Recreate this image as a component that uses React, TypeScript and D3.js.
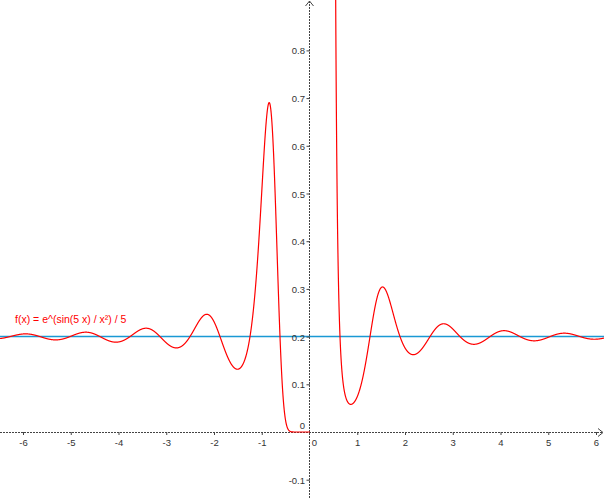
import React, { useMemo } from "react";
import * as d3 from "d3";

// Chart content
const functionLabel = "f(x) = e^(sin(5 x) / x²) / 5";
const xTicks = [-6, -5, -4, -3, -2, -1, 0, 1, 2, 3, 4, 5, 6];
const xTickLabels = ["-6", "-5", "-4", "-3", "-2", "-1", "0", "1", "2", "3", "4", "5", "6"];
const yTicks = [-0.1, 0, 0.1, 0.2, 0.3, 0.4, 0.5, 0.6, 0.7, 0.8];
const yTickLabels = ["-0.1", "0", "0.1", "0.2", "0.3", "0.4", "0.5", "0.6", "0.7", "0.8"];
const horizontalLineValue = [0.2];
// the plotted function, as stated on the chart
const f = (x: number) => Math.exp(Math.sin(5 * x) / (x * x)) / 5;

const W = 604;
const H = 499;
const ORIGIN_X = 310;
const ORIGIN_Y = 432;
const PX_PER_X = 47.75;
const PX_PER_Y = 477;

export default function App() {
  const x = d3
    .scaleLinear()
    .domain([-ORIGIN_X / PX_PER_X, (W - ORIGIN_X) / PX_PER_X])
    .range([0, W]);
  const y = d3
    .scaleLinear()
    .domain([-(H - ORIGIN_Y) / PX_PER_Y, ORIGIN_Y / PX_PER_Y])
    .range([H, 0]);

  const pathD = useMemo(() => {
    const [x0, x1] = x.domain();
    const line = d3
      .line<[number, number]>()
      .x((d) => x(d[0]))
      .y((d) => y(d[1]));
    const sample = (a: number, b: number, n: number) => {
      const pts: [number, number][] = [];
      for (let i = 0; i <= n; i++) {
        const xv = a + ((b - a) * i) / n;
        let v = f(xv);
        if (!isFinite(v) || v > 3) v = 3;
        pts.push([xv, v]);
      }
      return pts;
    };
    const left = sample(x0, -1e-4, 4000);
    const right = sample(1e-4, x1, 4000);
    return (line(left) || "") + (line(right) || "");
  }, []);

  const axisColor = "#444";
  const font = "'Liberation Sans', Arial, sans-serif";

  return (
    <svg
      width={W}
      height={H}
      style={{ position: "fixed", left: 0, top: 0, background: "#fff" }}
      fontFamily={font}
    >
      <defs>
        <clipPath id="plot">
          <rect x={0} y={0} width={W} height={H} />
        </clipPath>
      </defs>

      {/* horizontal line y = 0.2 */}
      {horizontalLineValue.map((v, i) => (
        <line key={"h" + i} x1={0} x2={W} y1={y(v)} y2={y(v)} stroke="#1a99d4" strokeWidth={1.5} />
      ))}

      {/* x axis */}
      <line x1={0} x2={W - 1} y1={y(0) + 0.5} y2={y(0) + 0.5} stroke={axisColor} strokeWidth={1} strokeDasharray="2,1" />
      <path d={`M${W - 6},${y(0) - 3.5} L${W - 1},${y(0) + 0.5} L${W - 6},${y(0) + 4.5}`} fill="none" stroke={axisColor} strokeWidth={1} />
      {/* y axis */}
      <line x1={x(0) - 0.5} x2={x(0) - 0.5} y1={1} y2={H} stroke={axisColor} strokeWidth={1} strokeDasharray="2,1" />
      <path d={`M${x(0) - 4.5},${6} L${x(0) - 0.5},${1} L${x(0) + 3.5},${6}`} fill="none" stroke={axisColor} strokeWidth={1} />

      {/* x ticks */}
      {xTicks.map((t, i) => (
        <g key={"xt" + i}>
          {t !== 0 && (
            <line x1={x(t)} x2={x(t)} y1={y(0)} y2={y(0) + 3} stroke={axisColor} strokeWidth={1} />
          )}
          <text
            x={t === 0 ? x(t) + 4.5 : x(t)}
            y={y(0) + 14}
            fontSize={9.5}
            fill="#333"
            textAnchor="middle"
          >
            {xTickLabels[i]}
          </text>
        </g>
      ))}
      {/* y ticks */}
      {yTicks.map((t, i) => (
        <g key={"yt" + i}>
          {t !== 0 && (
            <line x1={x(0) - 3.5} x2={x(0)} y1={y(t) + 0.5} y2={y(t) + 0.5} stroke={axisColor} strokeWidth={1} />
          )}
          <text
            x={x(0) - 5}
            y={t === 0 ? y(t) - 3 : y(t) + 4}
            fontSize={9.5}
            fill="#333"
            textAnchor="end"
          >
            {yTickLabels[i]}
          </text>
        </g>
      ))}

      {/* function curve */}
      <path d={pathD} fill="none" stroke="#ff0000" strokeWidth={1.2} clipPath="url(#plot)" />

      {/* function label */}
      <text x={15} y={323} fontSize={10.5} fill="#ff0000">
        {functionLabel}
      </text>
    </svg>
  );
}
